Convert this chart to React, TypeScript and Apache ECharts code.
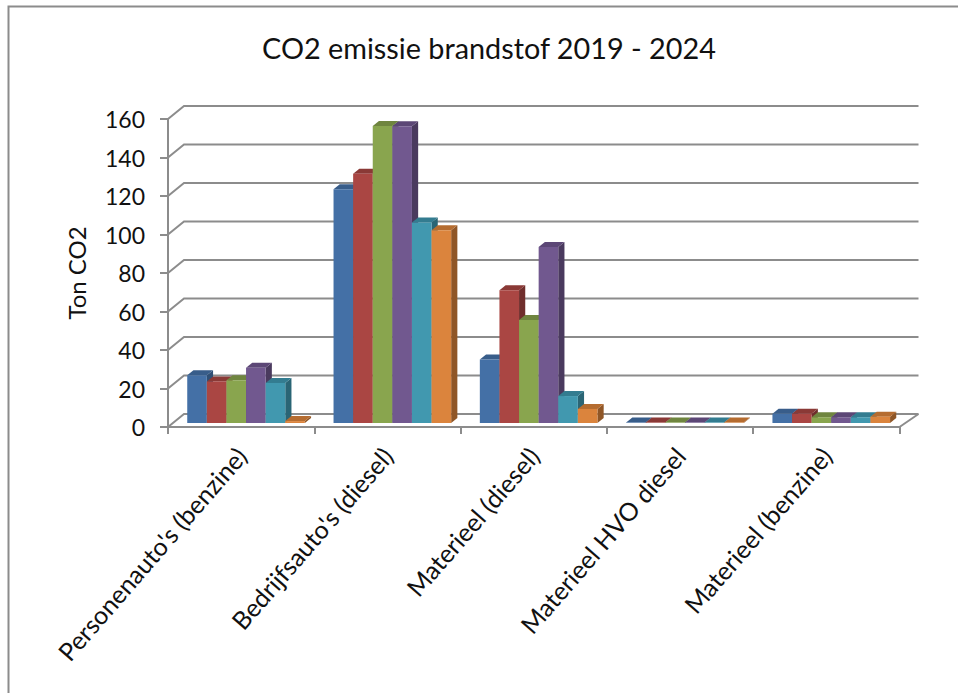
import React, { useEffect, useRef } from "react";
import * as echarts from "echarts";

const categories = ["Personenauto's (benzine)", "Bedrijfsauto's (diesel)", "Materieel (diesel)", "Materieel HVO diesel", "Materieel (benzine)"];
const y2019 = [24.8, 121.4, 33, 0.2, 4.8];
const y2020 = [21.6, 129.5, 69, 0.2, 4.8];
const y2021 = [22.2, 154.3, 53.5, 0.2, 3];
const y2022 = [28.7, 154.1, 91.4, 0.2, 3];
const y2023 = [20.8, 104.2, 14, 0.2, 3];
const y2024 = [1, 100.1, 7.3, 0.2, 3.3];
const yTicks = [0, 20, 40, 60, 80, 100, 120, 140, 160];

const seriesValues = [y2019, y2020, y2021, y2022, y2023, y2024];
const seriesNames = ["2019", "2020", "2021", "2022", "2023", "2024"];
const front = ["#4470A6", "#AA4643", "#89A54E", "#71588F", "#4198AF", "#DB843D"];
const top = ["#385D8A", "#8A3936", "#6F853F", "#5C4776", "#337C90", "#B56C30"];
const side = ["#2F4F75", "#6F2E2C", "#566A30", "#4A3A5E", "#2A6575", "#8F5627"];

const GREY = "#8C8C8C";
const BAR_SHARE = 0.134;
const WALL_DX = 16;
const WALL_DY = 13;
const WALL_RIGHT_DX = 19;

export default function App() {
  const ref = useRef<HTMLDivElement>(null);
  useEffect(() => {
    const chart = echarts.init(ref.current!, undefined, { renderer: "svg" });
    const font = "Lato, Carlito, sans-serif";

    const wall: any = {
      type: "custom",
      silent: true,
      clip: false,
      data: yTicks.map((t) => [0, t]),
      encode: { x: 0, y: 1 },
      renderItem: (params: any, api: any) => {
        const cs = params.coordSys;
        const y = api.coord([0, api.value(1)])[1];
        const line = {
          type: "polyline",
          shape: { points: [[cs.x, y], [cs.x + WALL_DX, y - WALL_DY], [cs.x + cs.width + WALL_RIGHT_DX, y - WALL_DY]] },
          style: { stroke: GREY, lineWidth: 2, fill: "none" },
        };
        const children: any[] = [line];
        if (api.value(1) === 0) {
          children.push({
            type: "line",
            shape: { x1: cs.x + cs.width, y1: y, x2: cs.x + cs.width + WALL_RIGHT_DX, y2: y - WALL_DY },
            style: { stroke: GREY, lineWidth: 2 },
          });
        }
        return { type: "group", children };
      },
    };

    const bars = seriesValues.map((vals, s) => ({
      type: "custom",
      name: seriesNames[s],
      silent: true,
      clip: false,
      data: vals.map((v, i) => [i, v]),
      encode: { x: 0, y: 1 },
      renderItem: (_p: any, api: any) => {
        const cat = api.value(0);
        const [cx, yv] = api.coord([cat, api.value(1)]);
        const y0 = api.coord([cat, 0])[1];
        const band = api.size([1, 0])[0];
        const w = band * BAR_SHARE;
        const x = cx + 4.9 + (s - 3) * w;
        const t = yv - 4;
        const b = y0 - 4;
        const dx = 6.2;
        const dy = 5;
        return {
          type: "group",
          children: [
            { type: "polygon", shape: { points: [[x + w, t], [x + w + dx, t - dy], [x + w + dx, b - dy], [x + w, b]] }, style: { fill: side[s] } },
            { type: "polygon", shape: { points: [[x, t], [x + dx, t - dy], [x + w + dx, t - dy], [x + w, t]] }, style: { fill: top[s] } },
            { type: "rect", shape: { x, y: t, width: w, height: Math.max(b - t, 0.3) }, style: { fill: front[s] } },
          ],
        };
      },
    }));

    chart.setOption({
      animation: false,
      backgroundColor: "#ffffff",
      title: {
        text: "CO2 emissie brandstof 2019 - 2024",
        left: 484,
        top: 28,
        textAlign: "center",
        textStyle: { fontFamily: font, fontSize: 28.8, fontWeight: "normal", color: "#111" },
      },
      grid: { left: 168, top: 119, width: 731.5, height: 308 },
      xAxis: {
        type: "category",
        data: categories,
        axisLine: { lineStyle: { color: GREY, width: 2 } },
        axisTick: { show: true, length: 7, alignWithLabel: false, lineStyle: { color: GREY, width: 2 } },
        axisLabel: { interval: 0, rotate: 49, margin: 24, fontFamily: font, fontSize: 25, color: "#111" },
      },
      yAxis: {
        type: "value",
        min: 0,
        max: 160,
        interval: 20,
        name: "Ton CO2",
        nameLocation: "middle",
        nameGap: 80,
        nameRotate: 90,
        nameTextStyle: { fontFamily: font, fontSize: 24, color: "#111" },
        splitLine: { show: false },
        axisLine: { show: true, lineStyle: { color: GREY, width: 2 } },
        axisTick: { show: true, length: 8, lineStyle: { color: GREY, width: 2 } },
        axisLabel: { margin: 23, fontFamily: font, fontSize: 23, color: "#111" },
      },
      series: [wall, ...bars],
      graphic: [
        {
          type: "polyline",
          silent: true,
          shape: { points: [[8.5, 693], [8.5, 6.5], [958, 6.5]] },
          style: { stroke: GREY, lineWidth: 2, fill: "none" },
        },
      ],
    });
    return () => chart.dispose();
  }, []);
  return <div ref={ref} style={{ position: "absolute", left: 0, top: 0, width: 958, height: 693 }} />;
}
